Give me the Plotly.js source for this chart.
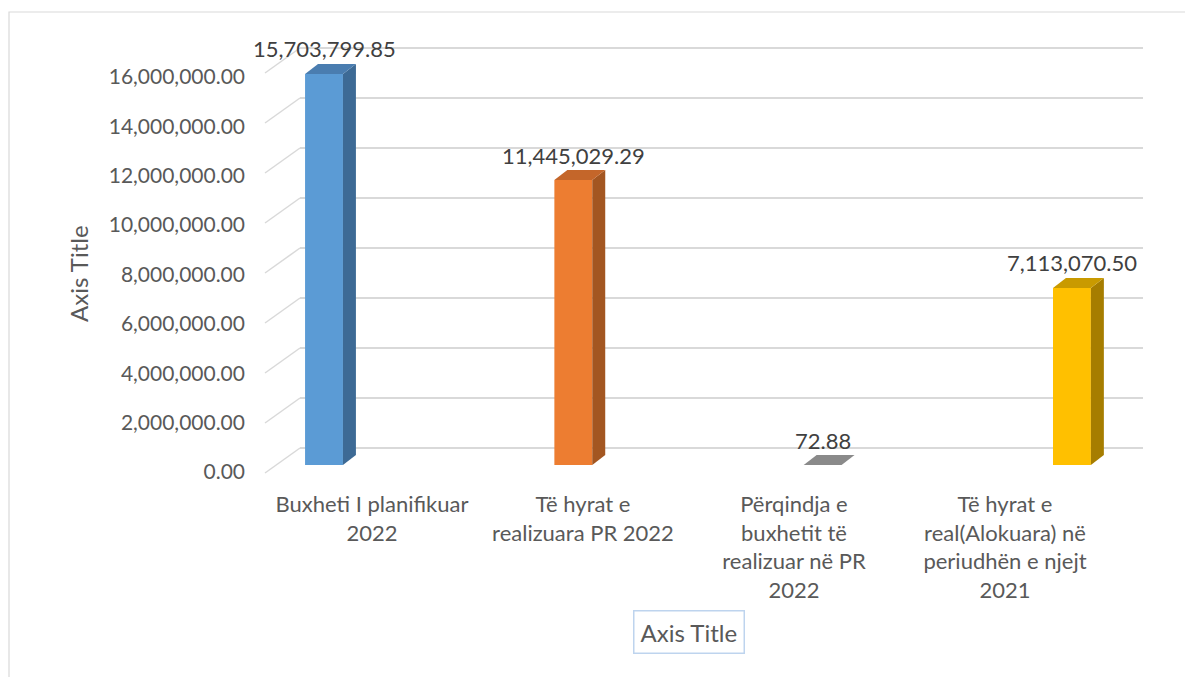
<!DOCTYPE html>
<html>
<head>
<meta charset="utf-8">
<script src="https://cdn.plot.ly/plotly-3.0.1.min.js"></script>
<style>
  html, body { margin: 0; padding: 0; background: #ffffff; }
  #chart { width: 1185px; height: 677px; }
</style>
</head>
<body>
<div id="chart"></div>
<script>
// ---- data ----
const categories = [
  'Buxheti I planifikuar<br>2022',
  'Të hyrat e<br>realizuara PR 2022',
  'Përqindja e<br>buxhetit të<br>realizuar në PR<br>2022',
  'Të hyrat e<br>real(Alokuara) në<br>periudhën e njejt<br>2021'
];
const values = [15703799.85, 11445029.29, 72.88, 7113070.50];
const valueLabels = ['15,703,799.85', '11,445,029.29', '72.88', '7,113,070.50'];
const tickValues = [0, 2000000, 4000000, 6000000, 8000000, 10000000, 12000000, 14000000, 16000000];

// ---- styles ----
const frontColors = ['#5B9BD5', '#ED7D31', '#A5A5A5', '#FFC000'];
const sideColors  = ['#3D6A95', '#A35621', '#737373', '#A67D00'];
const topColors   = ['#4A7DB0', '#C4662A', '#8A8A8A', '#C99A00'];
const barWidth = 0.152;   // category units
const depthX = 0.052;     // category units (3D depth offset)
const depthY = 400000;    // value units (3D depth offset)
const textColor = '#595959';
const fontFamily = 'Lato, "Open Sans", sans-serif';

const idx = categories.map((_, i) => i);
const traces = [];

// front faces
traces.push({
  type: 'bar', x: idx, y: values, width: barWidth,
  marker: { color: frontColors, line: { width: 0 } },
  hoverinfo: 'skip', showlegend: false, xaxis: 'x', yaxis: 'y'
});

// side and top faces
idx.forEach(i => {
  const v = values[i];
  const xl = i - barWidth / 2, xr = i + barWidth / 2;
  traces.push({
    type: 'scatter', mode: 'lines', fill: 'toself',
    x: [xr, xr + depthX, xr + depthX, xr, xr],
    y: [0, depthY, v + depthY, v, 0],
    fillcolor: sideColors[i], line: { width: 0, color: sideColors[i] },
    hoverinfo: 'skip', showlegend: false, xaxis: 'x', yaxis: 'y'
  });
  traces.push({
    type: 'scatter', mode: 'lines', fill: 'toself',
    x: [xl, xr, xr + depthX, xl + depthX, xl],
    y: [v, v, v + depthY, v + depthY, v],
    fillcolor: topColors[i], line: { width: 0, color: topColors[i] },
    hoverinfo: 'skip', showlegend: false, xaxis: 'x', yaxis: 'y'
  });
});

// invisible helpers to activate overlay axes
traces.push({ type: 'scatter', mode: 'markers', x: idx, y: values, xaxis: 'x2', yaxis: 'y',
  marker: { opacity: 0 }, hoverinfo: 'skip', showlegend: false });
traces.push({ type: 'scatter', mode: 'markers', x: idx, y: tickValues.slice(0, 4), xaxis: 'x', yaxis: 'y2',
  marker: { opacity: 0 }, hoverinfo: 'skip', showlegend: false });
traces.push({ type: 'scatter', mode: 'markers', x: idx, y: tickValues.slice(0, 4), xaxis: 'x', yaxis: 'y3',
  marker: { opacity: 0 }, hoverinfo: 'skip', showlegend: false });

// data labels
const annotations = idx.map(i => ({
  xref: 'x', yref: 'y', x: i, y: values[i], yshift: 25,
  text: valueLabels[i], showarrow: false, yanchor: 'middle', xanchor: 'center',
  font: { family: fontFamily, size: 22, color: '#404040' }
}));

// axis titles
annotations.push({
  xref: 'paper', yref: 'paper', x: (78 - 300) / 843, y: (480 - 274) / 440,
  text: 'Axis Title', textangle: -90, showarrow: false,
  xanchor: 'center', yanchor: 'middle',
  font: { family: fontFamily, size: 24, color: textColor }
});
annotations.push({
  xref: 'paper', yref: 'paper', x: (689 - 300) / 843, y: (480 - 632) / 440,
  text: 'Axis Title', showarrow: false, xanchor: 'center', yanchor: 'middle',
  bordercolor: '#BED4EE', borderwidth: 1.5, borderpad: 6, bgcolor: '#ffffff',
  font: { family: fontFamily, size: 24, color: textColor }
});

// side-wall diagonal grid lines and chart border
const shapes = tickValues.map(v => ({
  type: 'line', xref: 'paper', yref: 'y2',
  x0: (265 - 300) / 843, y0: v - 1000000, x1: 0, y1: v,
  line: { color: '#D9D9D9', width: 1.5 }
}));
shapes.push({
  type: 'rect', xref: 'paper', yref: 'paper',
  x0: (9 - 300) / 843, x1: (1200 - 300) / 843,
  y0: (480 - 720) / 440, y1: (480 - 12) / 440,
  line: { color: '#D9D9D9', width: 1.2 }, fillcolor: 'rgba(0,0,0,0)', layer: 'below'
});

const layout = {
  width: 1185, height: 677,
  margin: { l: 300, r: 42, t: 40, b: 197, autoexpand: false },
  paper_bgcolor: '#ffffff', plot_bgcolor: 'rgba(0,0,0,0)',
  font: { family: fontFamily, size: 21, color: textColor },
  showlegend: false,
  xaxis: {
    range: [-0.0963, 3.285], visible: false, fixedrange: true
  },
  xaxis2: {
    overlaying: 'x', anchor: 'y', side: 'bottom',
    range: [-0.341, 3.654],
    tickvals: idx, ticktext: categories,
    showgrid: false, zeroline: false, showline: false, ticks: '',
    ticklabelstandoff: 9,
    tickfont: { family: fontFamily, size: 22, color: textColor }
  },
  yaxis: {
    range: [-602000, 17068000], visible: false, fixedrange: true
  },
  yaxis2: {
    overlaying: 'y', anchor: 'x', range: [-1280000, 16320000],
    tickvals: tickValues, showticklabels: false, ticks: '',
    showgrid: true, gridcolor: '#D9D9D9', gridwidth: 1.5,
    zeroline: false, showline: false
  },
  yaxis3: {
    overlaying: 'y', anchor: 'x', side: 'left', range: [-324000, 17496000],
    tickvals: tickValues, tickformat: ',.2f', ticks: '',
    showgrid: false, zeroline: false, showline: false,
    ticklabelstandoff: 54,
    tickfont: { family: fontFamily, size: 21, color: textColor }
  },
  annotations: annotations,
  shapes: shapes
};

Plotly.newPlot('chart', traces, layout, { staticPlot: true, displayModeBar: false });
</script>
</body>
</html>
